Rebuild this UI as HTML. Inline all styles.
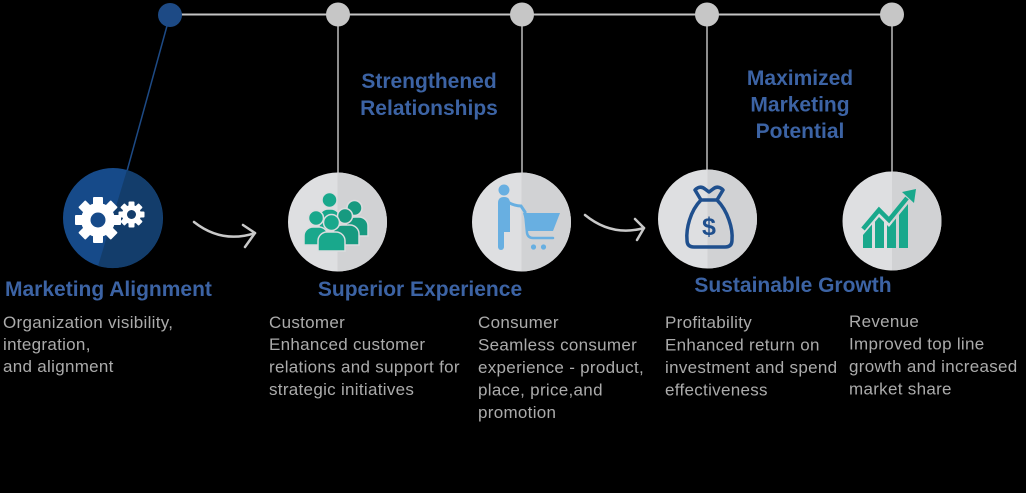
<!DOCTYPE html>
<html><head><meta charset="utf-8"><style>
html,body{margin:0;padding:0;background:#000;}
body{width:1026px;height:493px;overflow:hidden;}
svg{display:block;}
.t{font-family:"Liberation Sans",sans-serif;font-weight:bold;font-size:21px;fill:#3c63a4;}
.b{font-family:"Liberation Sans",sans-serif;font-size:17px;fill:#ababab;letter-spacing:0.3px;}
</style></head><body>
<svg width="1026" height="493" viewBox="0 0 1026 493" xmlns="http://www.w3.org/2000/svg">
<rect width="1026" height="493" fill="#000"/>
<!-- top line -->
<line x1="170" y1="14.5" x2="892" y2="14.5" stroke="#c4c4c4" stroke-width="2"/>
<g stroke="#bdbdbd" stroke-width="1.5">
<line x1="338" y1="15" x2="338" y2="174"/>
<line x1="522" y1="15" x2="522" y2="174"/>
<line x1="707" y1="15" x2="707" y2="171"/>
<line x1="892" y1="15" x2="892" y2="173"/>
</g>
<line x1="170" y1="15" x2="127" y2="171" stroke="#1d4a85" stroke-width="1.5"/>
<circle cx="170" cy="15" r="12" fill="#1d4a85"/>
<g fill="#c6c6c6">
<circle cx="338" cy="14.5" r="12"/>
<circle cx="522" cy="14.5" r="12"/>
<circle cx="707" cy="14.5" r="12"/>
<circle cx="892" cy="14.5" r="12"/>
</g>

<!-- blue gear circle -->
<circle cx="113" cy="218" r="50" fill="#164a89"/>
<path d="M127 170 A50 50 0 1 1 98 266 Z" fill="#133d6b"/>
<g fill="#fff">
<g transform="translate(98,220)">
<circle r="17"/>
<g>
<rect x="-5" y="-23" width="10" height="10" rx="1"/>
<rect x="-5" y="-23" width="10" height="10" rx="1" transform="rotate(45)"/>
<rect x="-5" y="-23" width="10" height="10" rx="1" transform="rotate(90)"/>
<rect x="-5" y="-23" width="10" height="10" rx="1" transform="rotate(135)"/>
<rect x="-5" y="-23" width="10" height="10" rx="1" transform="rotate(180)"/>
<rect x="-5" y="-23" width="10" height="10" rx="1" transform="rotate(225)"/>
<rect x="-5" y="-23" width="10" height="10" rx="1" transform="rotate(270)"/>
<rect x="-5" y="-23" width="10" height="10" rx="1" transform="rotate(315)"/>
</g>
<circle r="7.5" fill="#164a89"/>
</g>
<g transform="translate(131.5,214.5)">
<circle r="9.5"/>
<rect x="-3" y="-13" width="6" height="7" rx="1"/>
<rect x="-3" y="-13" width="6" height="7" rx="1" transform="rotate(45)"/>
<rect x="-3" y="-13" width="6" height="7" rx="1" transform="rotate(90)"/>
<rect x="-3" y="-13" width="6" height="7" rx="1" transform="rotate(135)"/>
<rect x="-3" y="-13" width="6" height="7" rx="1" transform="rotate(180)"/>
<rect x="-3" y="-13" width="6" height="7" rx="1" transform="rotate(225)"/>
<rect x="-3" y="-13" width="6" height="7" rx="1" transform="rotate(270)"/>
<rect x="-3" y="-13" width="6" height="7" rx="1" transform="rotate(315)"/>
<circle r="4.5" fill="#133d6b"/>
</g>
</g>

<!-- gray circles -->
<g>
<circle cx="337.5" cy="222" r="49.5" fill="#dedfe1"/>
<path d="M337.5 172.5 A49.5 49.5 0 0 1 337.5 271.5 Z" fill="#d1d2d4"/>
<circle cx="521.5" cy="222" r="49.5" fill="#dedfe1"/>
<path d="M521.5 172.5 A49.5 49.5 0 0 1 521.5 271.5 Z" fill="#d1d2d4"/>
<circle cx="707.5" cy="219" r="49.5" fill="#dedfe1"/>
<path d="M707.5 169.5 A49.5 49.5 0 0 1 707.5 268.5 Z" fill="#d1d2d4"/>
<circle cx="892" cy="221" r="49.5" fill="#dedfe1"/>
<path d="M892 171.5 A49.5 49.5 0 0 1 892 270.5 Z" fill="#d1d2d4"/>
</g>

<!-- people icon -->
<g fill="#19a88c" stroke="#dcdddf" stroke-width="1.5">
<path d="M319 230 L319 218 A9 9 0 0 1 328 209 L331 209 A9 9 0 0 1 340 218 L340 230 Z"/>
<circle cx="329.5" cy="200" r="7.5"/>
<path d="M346 236 L346 226 A9 9 0 0 1 355 217 L359 217 A9 9 0 0 1 368 226 L368 236 Z" fill="#179a80"/>
<circle cx="354.5" cy="208" r="7.5" fill="#179a80"/>
<path d="M333 245 L333 234 A9 9 0 0 1 342 225 L350 225 A9 9 0 0 1 359 234 L359 245 Z" fill="#179a80"/>
<circle cx="345" cy="216" r="7.5" fill="#179a80"/>
<path d="M304 245 L304 236 A9 9 0 0 1 313 227 L319 227 A9 9 0 0 1 328 236 L328 245 Z"/>
<circle cx="316" cy="218" r="7.5"/>
<path d="M318 251 L318 241 A9 9 0 0 1 327 232 L336 232 A9 9 0 0 1 345 241 L345 251 Z"/>
<circle cx="331.5" cy="222.5" r="8"/>
</g>

<!-- cart icon -->
<g fill="#68afe1">
<circle cx="504" cy="190" r="5.5"/>
<path d="M498 232 L498 203 Q498 197 504 197 Q510 197 510 203 L510 232 Z"/>
<rect x="498" y="228" width="6" height="22" rx="3"/>
<path d="M506 201 Q514 206 521 206 L525 212" fill="none" stroke="#68afe1" stroke-width="3" stroke-linecap="round"/>
<path d="M523 213 L560 213 L553 231 L528 231 Z"/>
<path d="M525 212 L527 233 Q528 238 533 238 L553 238" fill="none" stroke="#68afe1" stroke-width="2.5" stroke-linecap="round"/>
<circle cx="533.5" cy="247" r="2.6"/>
<circle cx="543.5" cy="247" r="2.6"/>
</g>

<!-- money bag -->
<g fill="none" stroke="#1f4f8d" stroke-width="3.5" stroke-linejoin="round">
<path d="M701 200 C690 211 686 229 687 240 Q687 247 694 247 L725 247 Q732 247 732 240 C733 229 728 211 717 200 Z"/>
<path d="M701 200 L695 190 Q700 185 705 189 L709 192 L713 189 Q718 185 723 190 L717 200"/>
</g>
<text x="709" y="235" text-anchor="middle" style="font-family:'Liberation Sans',sans-serif;font-weight:bold;font-size:25px;fill:#1f4f8d;">$</text>

<!-- growth chart -->
<g fill="#19a88c">
<polygon points="863,235 872,224.5 872,248 863,248"/>
<polygon points="875,221.75 879,217 884,222 884,248 875,248"/>
<polygon points="887,225 889,227 896,218.5 896,248 887,248"/>
<polygon points="899,215 908,204 908,248 899,248"/>
<polyline points="863,229 879,210 889,220 907,198" fill="none" stroke="#19a88c" stroke-width="4.5" stroke-linejoin="miter"/>
<polygon points="916,189 914,203 902,192"/>
</g>

<!-- arrows -->
<g fill="none" stroke="#c9c9c9" stroke-width="2.5" stroke-linecap="round" stroke-linejoin="round">
<path d="M194 222 Q222 244 255 233"/>
<path d="M243 225 L255 233 L245 247"/>
<path d="M585 215 Q612 237 644 228"/>
<path d="M635 219 L644 228 L637 240"/>
</g>

<!-- titles -->
<text class="t" x="5" y="296">Marketing Alignment</text>
<text class="t" x="420" y="296" text-anchor="middle">Superior Experience</text>
<text class="t" x="793" y="292" text-anchor="middle">Sustainable Growth</text>
<text class="t" x="429" y="88" text-anchor="middle">Strengthened</text>
<text class="t" x="429" y="115" text-anchor="middle">Relationships</text>
<text class="t" x="800" y="85" text-anchor="middle">Maximized</text>
<text class="t" x="800" y="111.5" text-anchor="middle">Marketing</text>
<text class="t" x="800" y="138" text-anchor="middle">Potential</text>

<!-- body text -->
<text class="b" x="3" y="328">Organization visibility,</text>
<text class="b" x="3" y="350">integration,</text>
<text class="b" x="3" y="372">and alignment</text>

<text class="b" x="269" y="328">Customer</text>
<text class="b" x="269" y="350">Enhanced customer</text>
<text class="b" x="269" y="372.5">relations and support for</text>
<text class="b" x="269" y="395">strategic initiatives</text>

<text class="b" x="478" y="328">Consumer</text>
<text class="b" x="478" y="350.5">Seamless consumer</text>
<text class="b" x="478" y="373">experience - product,</text>
<text class="b" x="478" y="395.5">place, price,and</text>
<text class="b" x="478" y="418">promotion</text>

<text class="b" x="665" y="328">Profitability</text>
<text class="b" x="665" y="350.5">Enhanced return on</text>
<text class="b" x="665" y="373">investment and spend</text>
<text class="b" x="665" y="395.5">effectiveness</text>

<text class="b" x="849" y="327">Revenue</text>
<text class="b" x="849" y="349.5">Improved top line</text>
<text class="b" x="849" y="372">growth and increased</text>
<text class="b" x="849" y="394.5">market share</text>
</svg>
</body></html>
